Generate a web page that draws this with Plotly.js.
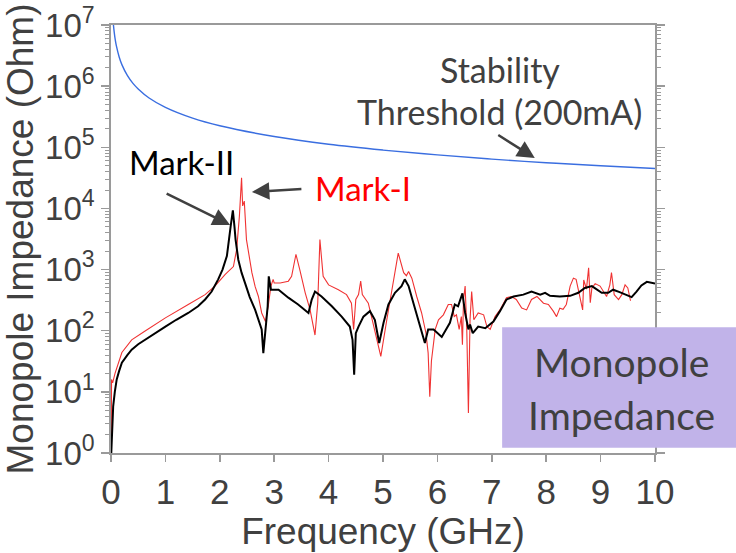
<!DOCTYPE html>
<html>
<head>
<meta charset="utf-8">
<script src="https://cdn.plot.ly/plotly-3.0.1.min.js"></script>
<style>html,body{margin:0;padding:0;background:#fff;}#chart{width:736px;height:553px;}</style>
</head>
<body>
<div id="chart"></div>
<script>
// Stability threshold (200 mA), blue
const freqThreshold = [0.04, 0.06, 0.08, 0.1, 0.15, 0.2, 0.3, 0.4, 0.5, 0.7, 1.0, 1.5, 2, 3, 4, 5, 6, 7, 8, 9, 10];
const zThreshold = [1.1e7, 7.5e6, 5.6e6, 4.5e6, 3.0e6, 2.25e6, 1.5e6, 1.12e6, 9.0e5, 6.4e5, 4.5e5, 3.0e5, 2.25e5, 1.5e5, 1.12e5, 9.0e4, 7.5e4, 6.4e4, 5.6e4, 5.0e4, 4.5e4];

// Mark-II, black
const freqMarkII = [0.005, 0.02, 0.04, 0.07, 0.105, 0.15, 0.2, 0.3, 0.38, 0.5, 0.62, 0.8, 1.0, 1.2, 1.42, 1.6, 1.73, 1.85, 1.97, 2.05, 2.13, 2.2, 2.24, 2.27, 2.29, 2.34, 2.40, 2.46, 2.55, 2.65, 2.72, 2.77, 2.80, 2.84, 2.88, 2.90, 2.94, 3.08, 3.26, 3.44, 3.63, 3.69, 3.75, 3.87, 4.06, 4.24, 4.39, 4.44, 4.47, 4.50, 4.55, 4.64, 4.76, 4.85, 4.93, 5.01, 5.10, 5.22, 5.34, 5.40, 5.47, 5.56, 5.65, 5.72, 5.77, 5.83, 5.93, 6.08, 6.23, 6.32, 6.38, 6.46, 6.51, 6.57, 6.60, 6.65, 6.75, 6.88, 7.03, 7.15, 7.27, 7.40, 7.58, 7.73, 7.89, 7.98, 8.07, 8.25, 8.44, 8.59, 8.71, 8.84, 8.90, 9.02, 9.14, 9.23, 9.35, 9.48, 9.57, 9.66, 9.75, 9.85, 9.94, 10.0];
const zMarkII = [1, 2.8, 5.8, 10, 16, 22, 30, 40, 49, 60, 71, 91, 117, 151, 195, 251, 324, 437, 692, 1000, 1660, 5130, 9330, 5010, 3090, 1450, 890, 617, 355, 219, 148, 105, 43, 100, 251, 776, 468, 468, 347, 269, 195, 324, 437, 363, 251, 170, 117, 71, 19, 91, 117, 170, 209, 151, 63, 135, 269, 417, 537, 692, 537, 282, 151, 89, 63, 105, 105, 79, 135, 269, 251, 407, 195, 105, 126, 91, 117, 110, 141, 209, 324, 363, 389, 437, 389, 417, 372, 363, 372, 417, 501, 537, 490, 417, 417, 468, 427, 389, 355, 437, 550, 631, 603, 589];

// Mark-I, red
const freqMarkI = [0.003, 0.01, 0.03, 0.074, 0.2, 0.38, 0.62, 1.0, 1.42, 1.73, 1.91, 2.1, 2.25, 2.31, 2.36, 2.40, 2.42, 2.45, 2.49, 2.59, 2.65, 2.71, 2.77, 2.84, 2.89, 2.94, 2.98, 3.0, 3.11, 3.26, 3.32, 3.40, 3.47, 3.57, 3.66, 3.75, 3.80, 3.84, 3.90, 4.0, 4.18, 4.33, 4.42, 4.46, 4.50, 4.55, 4.59, 4.62, 4.73, 4.85, 4.96, 5.07, 5.19, 5.28, 5.38, 5.43, 5.47, 5.53, 5.62, 5.71, 5.79, 5.83, 5.86, 5.89, 5.96, 6.02, 6.11, 6.20, 6.26, 6.31, 6.35, 6.40, 6.44, 6.46, 6.48, 6.51, 6.54, 6.57, 6.60, 6.63, 6.67, 6.75, 6.85, 6.91, 6.97, 7.06, 7.15, 7.27, 7.36, 7.45, 7.55, 7.64, 7.73, 7.83, 7.95, 8.04, 8.13, 8.19, 8.25, 8.31, 8.37, 8.44, 8.50, 8.55, 8.59, 8.63, 8.67, 8.69, 8.74, 8.78, 8.81, 8.84, 8.90, 8.99, 9.05, 9.11, 9.17, 9.20, 9.25, 9.33, 9.39, 9.45, 9.50, 9.55];
const zMarkI = [1, 16, 14, 20, 44, 71, 98, 162, 269, 389, 537, 832, 1120, 2140, 7410, 31600, 11000, 13200, 3090, 891, 525, 363, 195, 141, 251, 537, 692, 603, 603, 646, 776, 1780, 1000, 417, 219, 85, 282, 3090, 776, 562, 468, 389, 282, 105, 324, 389, 646, 389, 282, 105, 38, 151, 692, 1860, 891, 794, 933, 724, 363, 195, 91, 43, 8.3, 32, 105, 151, 182, 269, 269, 170, 182, 105, 170, 59, 324, 537, 105, 4.5, 151, 437, 151, 195, 182, 117, 105, 170, 219, 347, 363, 324, 234, 219, 324, 363, 282, 269, 209, 170, 234, 224, 269, 537, 724, 692, 468, 324, 219, 676, 479, 1070, 288, 501, 589, 537, 437, 363, 562, 891, 389, 324, 389, 562, 501, 309];

// Axis ticks
const yTickVals = [1, 10, 100, 1000, 1e4, 1e5, 1e6, 1e7];
const yTickText = ['10<sup>0</sup>', '10<sup>1</sup>', '10<sup>2</sup>', '10<sup>3</sup>', '10<sup>4</sup>', '10<sup>5</sup>', '10<sup>6</sup>', '10<sup>7</sup>'];
const xTickVals = [0, 1, 2, 3, 4, 5, 6, 7, 8, 9, 10];

const minorVals = [];
for (let e = 0; e < 7; e++) for (let m = 2; m <= 9; m++) minorVals.push(m * Math.pow(10, e));

const textColor = '#404040';
const axisColor = '#9a9a9a';
const axFont = 'Liberation Sans';
const annFont = 'Lato';

const traces = [
  {x: freqMarkI, y: zMarkI, type: 'scatter', mode: 'lines', line: {color: '#f03232', width: 1.1}, hoverinfo: 'skip'},
  {x: freqMarkII, y: zMarkII, type: 'scatter', mode: 'lines', line: {color: '#000000', width: 2}, hoverinfo: 'skip'},
  {x: freqThreshold, y: zThreshold, type: 'scatter', mode: 'lines', line: {color: '#3a6ee0', width: 1.4, shape: 'spline'}, hoverinfo: 'skip'}
];

const layout = {
  width: 736, height: 553,
  margin: {l: 111, r: 81, t: 25, b: 100},
  paper_bgcolor: '#ffffff', plot_bgcolor: '#ffffff',
  showlegend: false,
  font: {family: axFont, color: textColor},
  xaxis: {
    range: [0, 10], tickmode: 'array', tickvals: xTickVals,
    ticks: 'outside', ticklen: 7, tickwidth: 1.5, tickcolor: axisColor,
    showline: true, linecolor: axisColor, linewidth: 1.8, mirror: true,
    showgrid: false, zeroline: false,
    tickfont: {family: axFont, size: 35, color: textColor}, ticklabelstandoff: 0,
    title: {text: 'Frequency (GHz)', font: {family: axFont, size: 37, color: textColor}, standoff: 2}
  },
  yaxis: {
    type: 'log', range: [0, 7], tickmode: 'array', tickvals: yTickVals, ticktext: yTickText,
    ticks: 'outside', ticklen: 8, tickwidth: 1.5, tickcolor: axisColor,
    minor: {tickmode: 'array', tickvals: minorVals, ticks: 'outside', ticklen: 4, tickwidth: 1, tickcolor: axisColor},
    showline: true, linecolor: axisColor, linewidth: 1.8, mirror: 'allticks',
    showgrid: false, zeroline: false,
    tickfont: {family: axFont, size: 33, color: textColor}, ticklabelstandoff: 0,
    title: {text: 'Monopole Impedance (Ohm)', font: {family: axFont, size: 37, color: textColor}, standoff: 0}
  },
  shapes: [
    {type: 'rect', xref: 'paper', yref: 'paper', x0: 0.719, x1: 1.16, y0: 0.012, y1: 0.294,
     fillcolor: '#c1b3e9', line: {width: 0}, layer: 'above'}
  ],
  annotations: [
    {xref: 'paper', yref: 'paper', x: 0.715, y: 0.895, text: 'Stability', showarrow: false,
     font: {family: annFont, size: 34, color: textColor}, xanchor: 'center', yanchor: 'middle'},
    {xref: 'paper', yref: 'paper', x: 0.715, y: 0.797, text: 'Threshold (200mA)', showarrow: false,
     font: {family: annFont, size: 34, color: textColor}, xanchor: 'center', yanchor: 'middle'},
    {xref: 'paper', yref: 'paper', x: 0.779, y: 0.689, ax: -38, ay: -24, text: '', showarrow: true,
     arrowhead: 2, arrowsize: 1.4, arrowwidth: 2.5, arrowcolor: textColor},
    {xref: 'paper', yref: 'paper', x: 0.129, y: 0.679, text: 'Mark-II', showarrow: false,
     font: {family: annFont, size: 33, color: '#000000'}, xanchor: 'center', yanchor: 'middle'},
    {xref: 'paper', yref: 'paper', x: 0.219, y: 0.533, ax: -65, ay: -32, text: '', showarrow: true,
     arrowhead: 2, arrowsize: 1.4, arrowwidth: 2.5, arrowcolor: textColor},
    {xref: 'paper', yref: 'paper', x: 0.463, y: 0.619, text: 'Mark-I', showarrow: false,
     font: {family: annFont, size: 33, color: '#ff0000'}, xanchor: 'center', yanchor: 'middle'},
    {xref: 'paper', yref: 'paper', x: 0.259, y: 0.610, ax: 51, ay: -3, text: '', showarrow: true,
     arrowhead: 2, arrowsize: 1.4, arrowwidth: 2.5, arrowcolor: textColor},
    {xref: 'paper', yref: 'paper', x: 0.939, y: 0.212, text: 'Monopole', showarrow: false,
     font: {family: annFont, size: 39, color: textColor}, xanchor: 'center', yanchor: 'middle'},
    {xref: 'paper', yref: 'paper', x: 0.939, y: 0.088, text: 'Impedance', showarrow: false,
     font: {family: annFont, size: 39, color: textColor}, xanchor: 'center', yanchor: 'middle'}
  ]
};

Plotly.newPlot('chart', traces, layout, {staticPlot: true, displayModeBar: false});
</script>
</body>
</html>
